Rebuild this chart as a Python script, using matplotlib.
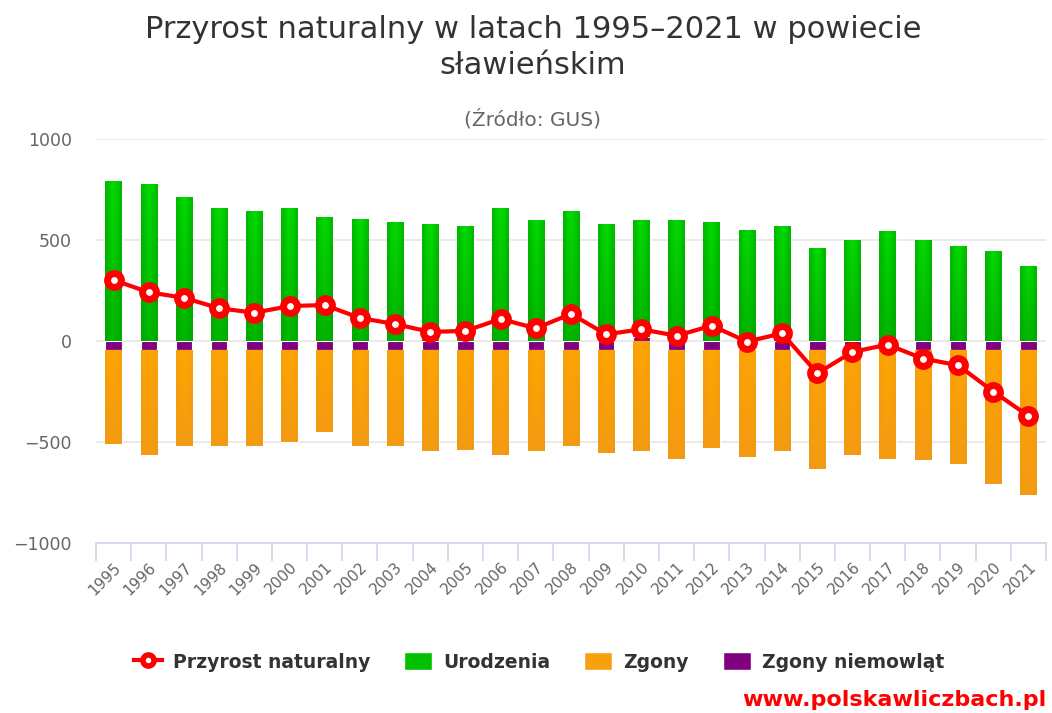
import numpy as np
import matplotlib
matplotlib.use("Agg")
import matplotlib.pyplot as plt
from matplotlib.lines import Line2D
from matplotlib.patches import Patch
from matplotlib.colors import LinearSegmentedColormap

plt.rcParams['font.family'] = ['DejaVu Sans']

lata = list(range(1995, 2022))
urodzenia = [793, 777, 713, 658, 642, 658, 614, 605, 589, 579, 569, 658, 597, 642,
             579, 575, 597, 587, 551, 569, 462, 498, 543, 498, 470, 446, 373]
zgony = [-466, -519, -475, -475, -475, -456, -404, -475, -475, -501, -493, -519, -501, -475,
         -511, -546, -538, -483, -528, -501, -590, -519, -538, -546, -564, -661, -716]
zgony_niemowlat = [-45, -45, -45, -45, -45, -45, -45, -45, -45, -45, -45, -45, -45, -45,
                   -45, 22, -45, -45, -45, -45, -45, -45, -45, -45, -45, -45, -45]
przyrost = [302, 241, 214, 162, 140, 173, 178, 114, 84, 45, 50, 109, 63, 134,
            33, 58, 26, 76, -3, 38, -160, -54, -18, -87, -120, -250, -371]

x = np.arange(len(lata))
nm = np.array(zgony_niemowlat)
pos_base = np.where(nm > 0, nm, 0)
neg_base = np.where(nm < 0, nm, 0)

fig = plt.figure(figsize=(10.52, 7.13), dpi=100)
ax = fig.add_axes([96 / 1052, 1 - 543 / 713, 950 / 1052, 404 / 713])

w = 0.47
b_ur = ax.bar(x, urodzenia, w, bottom=pos_base, color='#00bb00', edgecolor='white', linewidth=0.8, zorder=2)
b_nm = ax.bar(x, zgony_niemowlat, w, color='#800080', edgecolor='white', linewidth=0.8, zorder=2)
b_zg = ax.bar(x, zgony, w, bottom=neg_base, color='#f8a010', edgecolor='white', linewidth=0.8, zorder=2)


# gradient fill like the original (lighter in the middle, darker at the bottom)
def gradient(bars, c_mid, c_edge, c_bottom):
    cm_h = LinearSegmentedColormap.from_list('h', [c_edge, c_mid, c_edge])
    xs = np.linspace(0, 1, 40)
    ys = np.linspace(0, 1, 60)[:, None]
    bot = np.array(matplotlib.colors.to_rgb(c_bottom))
    for b in bars:
        x0, y0 = b.get_x(), b.get_y()
        bw, bh = b.get_width(), b.get_height()
        ylo, yhi = min(y0, y0 + bh), max(y0, y0 + bh)
        rgb = cm_h(xs)[None, :, :3] * np.ones((60, 1, 1))
        t = ys[:, :, None] * 0.55
        img = rgb * (1 - t) + bot * t
        im = ax.imshow(img, extent=[x0, x0 + bw, ylo, yhi], origin='upper',
                       aspect='auto', zorder=2.1, interpolation='bilinear')
        im.set_clip_path(b)


gradient(b_ur, '#00dd00', '#00b800', '#009900')
gradient(b_zg, '#ffa500', '#f7a10a', '#ec931f')

ax.plot(x, przyrost, color='#ff0000', lw=3, marker='o', ms=10, mfc='white',
        mec='#ff0000', mew=5, zorder=4)

ax.set_xlim(-0.5, len(lata) - 0.5)
ax.set_ylim(-1000, 1000)
ax.set_yticks([-1000, -500, 0, 500, 1000])
ax.set_yticklabels(['\u22121000', '\u2212500', '0', '500', '1000'])
ax.grid(axis='y', color='#e6e6e6', lw=1.2, zorder=0)
ax.set_axisbelow(True)
for s in ['top', 'right', 'left']:
    ax.spines[s].set_visible(False)
ax.spines['bottom'].set_color('#ccd6eb')
ax.spines['bottom'].set_linewidth(1.2)
ax.tick_params(axis='y', length=0, pad=17.5, labelsize=12.5, labelcolor='#666666')

ax.set_xticks(x)
ax.set_xticklabels([str(r) for r in lata], rotation=45, ha='right',
                   rotation_mode='anchor', fontsize=11, color='#666666')
ax.tick_params(axis='x', which='major', length=0, pad=12)
ax.set_xticks(np.arange(-0.5, len(lata)), minor=True)
ax.tick_params(axis='x', which='minor', length=13, width=1.2, color='#ccd6eb')

fig.text(533 / 1052, 1 - 30 / 713, 'Przyrost naturalny w latach 1995\u20132021 w powiecie',
         ha='center', va='center', fontsize=22, color='#333333')
fig.text(533 / 1052, 1 - 65 / 713, 'sławieńskim', ha='center', va='center',
         fontsize=22, color='#333333')
fig.text(533 / 1052, 1 - 119 / 713, '(Źródło: GUS)', ha='center', va='center',
         fontsize=14.5, color='#666666')

uchwyty = [
    Line2D([0], [0], color='#ff0000', lw=3, marker='o', ms=8, mfc='white', mec='#ff0000', mew=4),
    Patch(facecolor='#00c000', edgecolor='white'),
    Patch(facecolor='#f8a010', edgecolor='white'),
    Patch(facecolor='#800080', edgecolor='white'),
]
leg = fig.legend(uchwyty, ['Przyrost naturalny', 'Urodzenia', 'Zgony', 'Zgony niemowląt'],
                 loc='center', bbox_to_anchor=(539 / 1052, 1 - 662 / 713), ncol=4,
                 frameon=False, fontsize=13.5, columnspacing=1.8, handlelength=1.5,
                 handleheight=1.1, handletextpad=0.6)
for t in leg.get_texts():
    t.set_fontweight('bold')
    t.set_color('#333333')

fig.text(1046 / 1052, 1 - 700 / 713, 'www.polskawliczbach.pl', ha='right', va='center',
         fontsize=16, color='#ff0000', fontweight='bold')

fig.savefig('out.png', dpi=100)
